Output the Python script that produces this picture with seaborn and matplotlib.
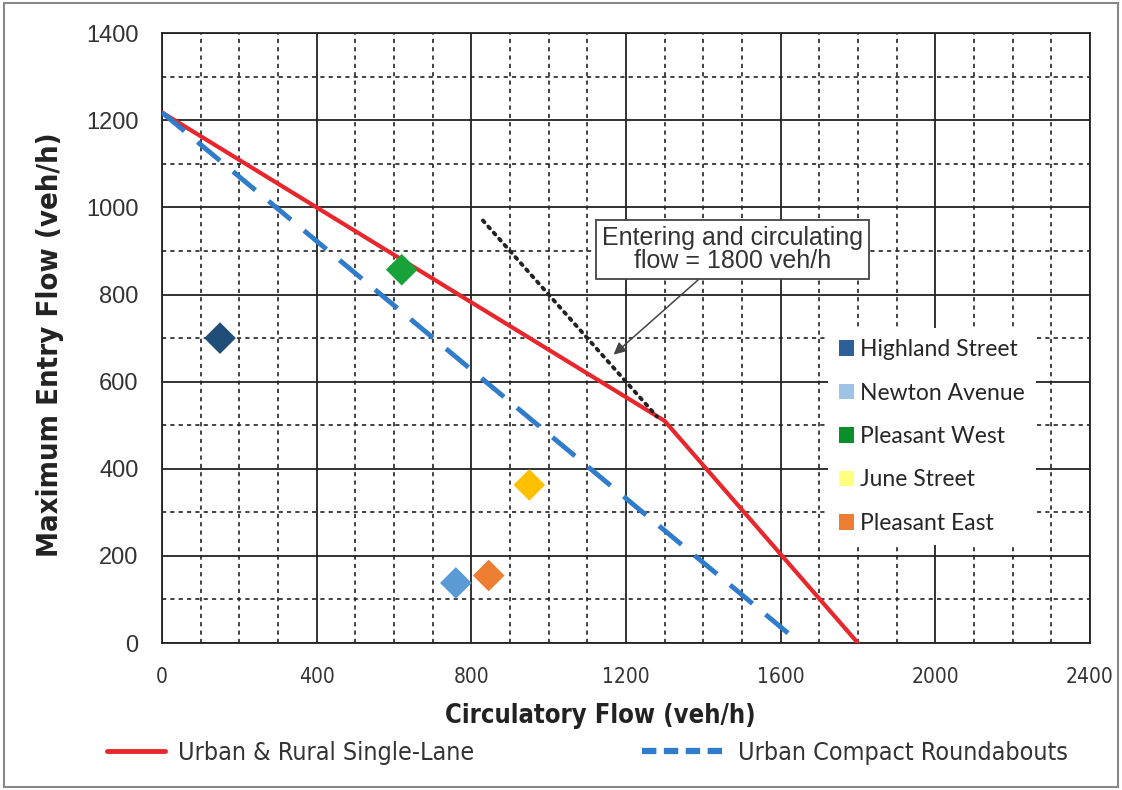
import matplotlib
matplotlib.use("Agg")
import matplotlib.pyplot as plt
import seaborn as sns
import pandas as pd
from matplotlib.lines import Line2D
from matplotlib.patches import Rectangle
from matplotlib.ticker import MultipleLocator
from matplotlib import font_manager as fm

# ---- data ----
single_lane_x = [0, 400, 1300, 1800]
single_lane_y = [1218, 1000, 510, 0]
compact_x = [0, 1650]
compact_y = [1218, 0]
total_1800_x = [830, 1280]
total_1800_y = [970, 520]

sites = ["Highland Street", "Newton Avenue", "Pleasant West", "June Street", "Pleasant East"]
site_x = [150, 760, 620, 950, 845]
site_y = [700, 138, 857, 363, 155]
marker_colors = ["#1f4e79", "#5b9bd5", "#17a33a", "#ffc000", "#ed7d31"]
legend_colors = ["#2f5f98", "#9dc3e6", "#0a8f2a", "#ffff80", "#ed7d31"]

x_ticks = [0, 400, 800, 1200, 1600, 2000, 2400]
y_ticks = [0, 200, 400, 600, 800, 1000, 1200, 1400]

sns.set_style("white")
plt.rcParams['font.family'] = ['Liberation Sans', 'DejaVu Sans']

cond = fm.FontProperties(family='DejaVu Sans', stretch='condensed', size=18)
cond_tick = fm.FontProperties(family='DejaVu Sans', stretch='condensed', size=15)
cond_xlab = fm.FontProperties(family='DejaVu Sans', stretch='condensed', size=18.4, weight='bold')
cond_ylab = fm.FontProperties(family='DejaVu Sans', stretch='condensed', size=21, weight='bold')

fig = plt.figure(figsize=(11.22, 7.90), dpi=100)
ax = fig.add_axes([0.1444, 0.186, 0.827, 0.772])

# grid
ax.set_xlim(0, 2400)
ax.set_ylim(0, 1400)
ax.xaxis.set_major_locator(MultipleLocator(400))
ax.yaxis.set_major_locator(MultipleLocator(200))
ax.xaxis.set_minor_locator(MultipleLocator(100))
ax.yaxis.set_minor_locator(MultipleLocator(100))
ax.grid(which='major', color='#222222', linewidth=1.3, linestyle='-')
ax.grid(which='minor', color='#222222', linewidth=1.2, linestyle=(0, (2.5, 2.5)))
ax.set_axisbelow(True)
for s in ax.spines.values():
    s.set_color('#222222')
    s.set_linewidth(1.3)

df_single = pd.DataFrame({"x": single_lane_x, "y": single_lane_y})
df_compact = pd.DataFrame({"x": compact_x, "y": compact_y})
df_tot = pd.DataFrame({"x": total_1800_x, "y": total_1800_y})

sns.lineplot(data=df_single, x="x", y="y", ax=ax, color="#e8262b", linewidth=3, sort=False, zorder=4)
sns.lineplot(data=df_compact, x="x", y="y", ax=ax, color="#2f7ccc", linewidth=3.5, sort=False,
             zorder=4)
ax.lines[-1].set_dashes([6, 3.5])
sns.lineplot(data=df_tot, x="x", y="y", ax=ax, color="#222222", linewidth=2.8, sort=False, zorder=4)
ax.lines[-1].set_linestyle((0, (0.6, 1.5)))
ax.lines[-1].set_dash_capstyle('round')

df_sites = pd.DataFrame({"site": sites, "x": site_x, "y": site_y})
sns.scatterplot(data=df_sites, x="x", y="y", hue="site", palette=dict(zip(sites, marker_colors)),
                marker="D", s=260, edgecolor="none", ax=ax, legend=False, zorder=5)

# annotation
ax.annotate("Entering and circulating\nflow = 1800 veh/h", xy=(1168, 662), xytext=(1475, 903),
            ha='center', va='center', fontsize=18, color='#333333', linespacing=0.95,
            bbox=dict(boxstyle='square,pad=0.24', fc='white', ec='#444444', lw=1.3),
            arrowprops=dict(arrowstyle='-|>', color='#444444', lw=1.1, mutation_scale=18,
                            shrinkA=0, shrinkB=0),
            zorder=6)

# ticks & labels
ax.set_xticks(x_ticks)
ax.set_yticks(y_ticks)
ax.set_xticklabels([str(v) for v in x_ticks], color='#333333', fontproperties=cond_tick)
ax.set_yticklabels([str(v) for v in y_ticks], fontsize=17, color='#333333')
ax.tick_params(which='major', direction='out', length=7, width=1.2, color='#222222', pad=10)
ax.tick_params(which='minor', length=0)
ax.set_xlabel("Circulatory Flow (veh/h)", color='#222222', fontproperties=cond_xlab)
ax.xaxis.set_label_coords(0.472, -0.098)
ax.set_ylabel("Maximum Entry Flow (veh/h)", color='#222222', fontproperties=cond_ylab)
ax.yaxis.set_label_coords(-0.106, 0.489)

# sites legend
handles = [Rectangle((0, 0), 1, 1, fc=c, ec='none') for c in legend_colors]
leg = ax.legend(handles, sites, loc='upper left', bbox_to_anchor=(0.705, 0.536),
                prop={'family': ['Lato', 'DejaVu Sans'], 'size': 16.5},
                frameon=True, facecolor='white', edgecolor='none', framealpha=1, fancybox=False,
                handlelength=0.65, handleheight=0.65, handletextpad=0.25, labelspacing=0.98,
                borderpad=0.5)
leg.set_zorder(7)

# bottom legends
leg1 = fig.legend([Line2D([], [], color="#e8262b", lw=3.5)], ["Urban & Rural Single-Lane"],
                  loc='center left', bbox_to_anchor=(0.075, 0.047), frameon=False,
                  prop=cond, handlelength=2.35, handletextpad=0.5, labelcolor='#333333')
leg2 = fig.legend([Line2D([], [], color="#2f7ccc", lw=4.5, dashes=[2.3, 1.2])],
                  ["Urban Compact Roundabouts"],
                  loc='center left', bbox_to_anchor=(0.552, 0.047), frameon=False,
                  prop=cond, handlelength=3.5, handletextpad=0.35, labelcolor='#333333')

# outer frame
fig.patches.append(Rectangle((0.004, 0.004), 0.992, 0.992, transform=fig.transFigure,
                             fill=False, ec='#888888', lw=1.5))

fig.savefig("out.png", dpi=100)
